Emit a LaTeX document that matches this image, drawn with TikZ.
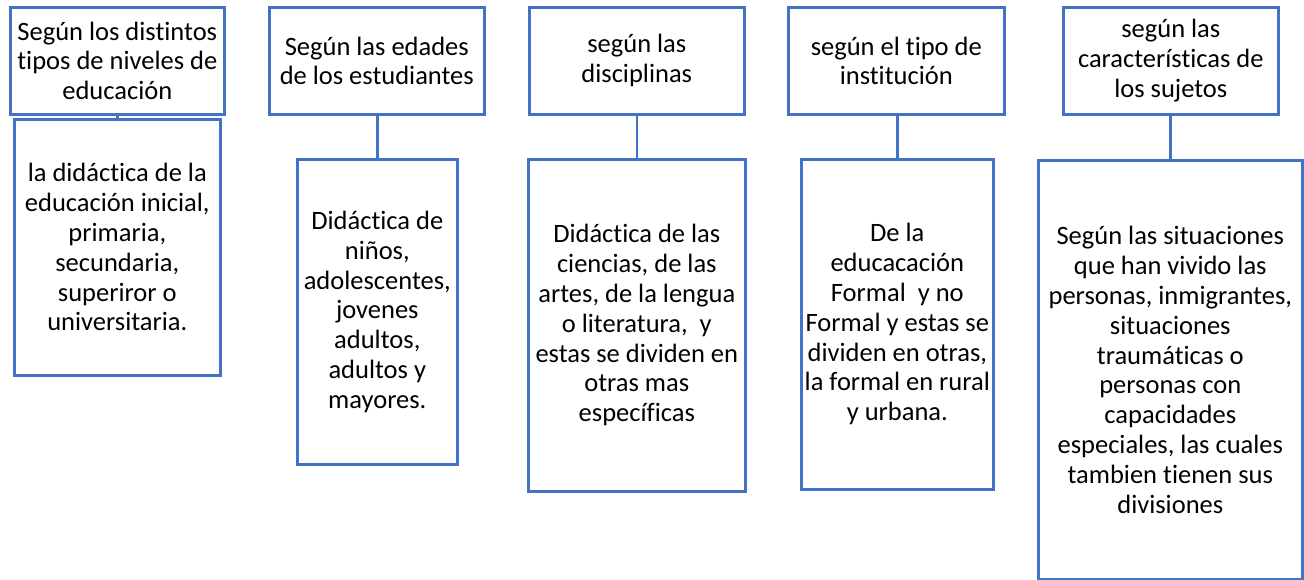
\documentclass[tikz,border=0pt]{standalone}
\usepackage{fontspec}
\setmainfont[Ligatures=NoCommon]{Carlito}
\definecolor{boxblue}{HTML}{4472C4}
\begin{document}
\begin{tikzpicture}[x=1pt,y=-1pt,
  box/.style={draw=boxblue, line width=2.6pt, fill=white, rectangle, anchor=north west,
    align=center, inner sep=0pt, font=\fontsize{26.5}{29.8}\selectfont, text=black},
  conn/.style={draw=boxblue, line width=2.6pt}]
\useasboundingbox (0,0) rectangle (1304,579);
% top boxes
\node[box, minimum width=214pt, minimum height=107pt] (t1) at (9,6) {Según los distintos\\tipos de niveles de\\educación};
\node[box, minimum width=215pt, minimum height=107pt] (t2) at (268,6) {Según las edades\\de los estudiantes};
\node[box, minimum width=215pt, minimum height=107pt] (t3) at (528,6) {según las\\disciplinas};
\node[box, minimum width=216pt, minimum height=107pt] (t4) at (787,6) {según el tipo de\\institución};
\node[box, minimum width=215pt, minimum height=107pt] (t5) at (1062,6) {según las\\características de\\los sujetos};
% bottom boxes
\node[box, minimum width=206pt, minimum height=256pt] (b1) at (13,118) {la didáctica de la\\educación inicial,\\primaria,\\secundaria,\\superiror o\\universitaria.};
\node[box, minimum width=160pt, minimum height=305pt] (b2) at (296,158) {Didáctica de\\niños,\\adolescentes,\\jovenes\\adultos,\\adultos y\\mayores.};
\node[box, minimum width=217pt, minimum height=332pt] (b3) at (527,158) {Didáctica de las\\ciencias, de las\\artes, de la lengua\\o literatura,\ \ y\\estas se dividen en\\otras mas\\específicas};
\node[box, minimum width=192pt, minimum height=330pt] (b4) at (800,158) {De la\\educacación\\Formal\ \ y no\\Formal y estas se\\dividen en otras,\\la formal en rural\\y urbana.};
\node[box, minimum width=264pt, minimum height=419pt] (b5) at (1037,159) {Según las situaciones\\que han vivido las\\personas, inmigrantes,\\situaciones\\traumáticas o\\personas con\\capacidades\\especiales, las cuales\\tambien tienen sus\\divisiones};
% connectors
\draw[conn] (t1.south) -- (t1.south |- b1.north);
\draw[conn] (b2.north) -- (b2.north |- t2.south);
\draw[conn] (t3.south) -- (t3.south |- b3.north);
\draw[conn] (b4.north) -- (b4.north |- t4.south);
\draw[conn] (b5.north) -- (b5.north |- t5.south);
\end{tikzpicture}
\end{document}
